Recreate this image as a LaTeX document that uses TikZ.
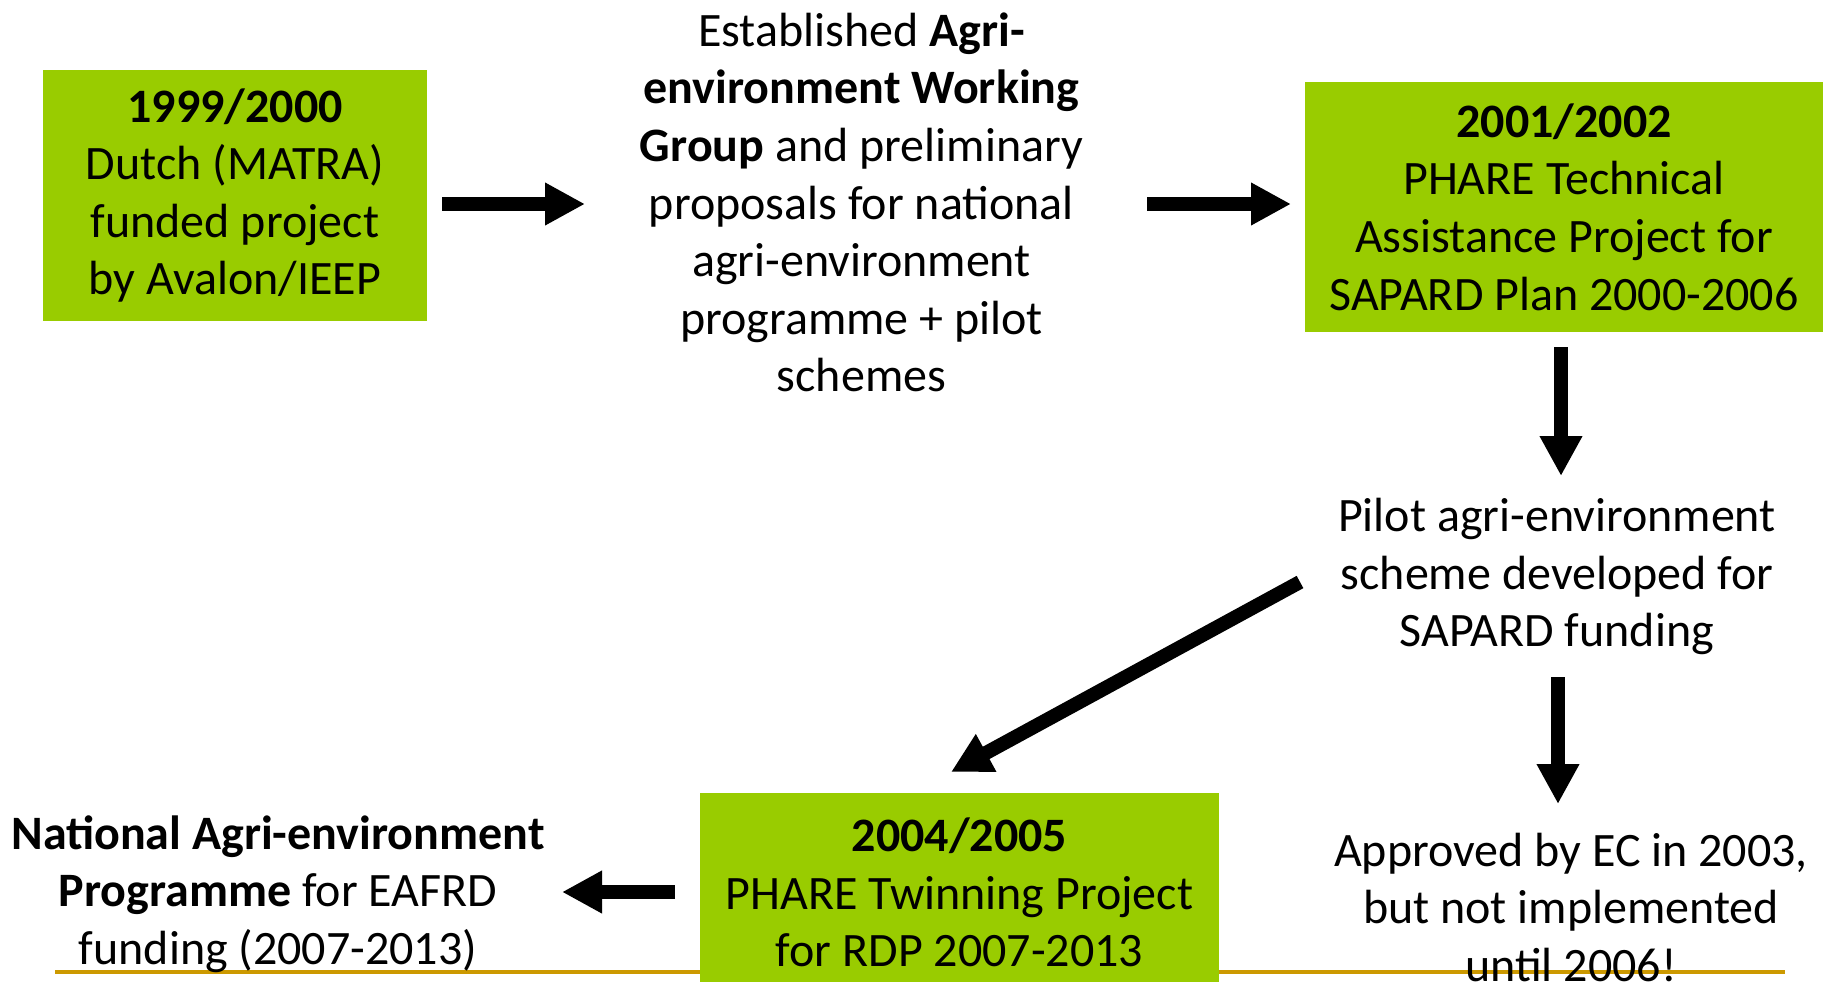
\documentclass[tikz,border=0pt]{standalone}
\usepackage{fontspec}
\setmainfont{Carlito}
\usetikzlibrary{arrows.meta}
\definecolor{boxgreen}{HTML}{99CC00}
\definecolor{rulegold}{HTML}{CC9900}
\begin{document}
\begin{tikzpicture}[x=1pt,y=-1pt,
  txt/.style={align=center,inner sep=0pt,font=\fontsize{48}{57.6}\selectfont},
  greenbox/.style={txt,fill=boxgreen,draw=none},
  flow/.style={line width=14pt,-{Triangle[length=40pt,width=40pt]}}]
\useasboundingbox (0,0) rectangle (1823,982);

% footer rule
\draw[rulegold,line width=4pt] (55,972) -- (1785,972);

% boxes and labels
\node[greenbox,minimum width=384pt,minimum height=251pt] (b1) at (235,195.5)
  {\textbf{1999/2000}\\Dutch (MATRA)\\funded project\\by Avalon/IEEP};
\node[txt] (t2) at (861.5,202.5)
  {Established \textbf{Agri-}\\\textbf{environment Working}\\\textbf{Group} and preliminary\\proposals for national\\agri-environment\\programme + pilot\\schemes};
\node[greenbox,minimum width=518pt,minimum height=250pt] (b2) at (1564,207)
  {\textbf{2001/2002}\\PHARE Technical\\Assistance Project for\\SAPARD Plan 2000-2006};
\node[txt] (t3) at (1557,576.5)
  {Pilot agri-environment\\scheme developed for\\SAPARD funding};
\node[txt] (t4) at (1571,907.5)
  {Approved by EC in 2003,\\but not implemented\\until 2006!};
\node[greenbox,minimum width=519pt,minimum height=199pt] (b3) at (959.5,892.5)
  {\textbf{2004/2005}\\PHARE Twinning Project\\for RDP 2007-2013};
\node[txt] (t5) at (278,894)
  {\textbf{National Agri-environment}\\\textbf{Programme} for EAFRD\\funding (2007-2013)};

% connector end points
\coordinate (a1s) at (442,204);  \coordinate (a1e) at (585,204);
\coordinate (a2s) at (1147,204); \coordinate (a2e) at (1291,204);
\coordinate (a3s) at (1561,347); \coordinate (a3e) at (1561,476);
\coordinate (a4s) at (1558,677); \coordinate (a4e) at (1558,804);
\coordinate (a5s) at (1300,582); \coordinate (a5e) at (951,772);
\coordinate (a6s) at (675,892);  \coordinate (a6e) at (562,892);

% arrows
\draw[flow] (a1s) -- (a1e);
\draw[flow] (a2s) -- (a2e);
\draw[flow] (a3s) -- (a3e);
\draw[flow] (a4s) -- (a4e);
\draw[flow] (a5s) -- (a5e);
\draw[flow] (a6s) -- (a6e);
\end{tikzpicture}
\end{document}
